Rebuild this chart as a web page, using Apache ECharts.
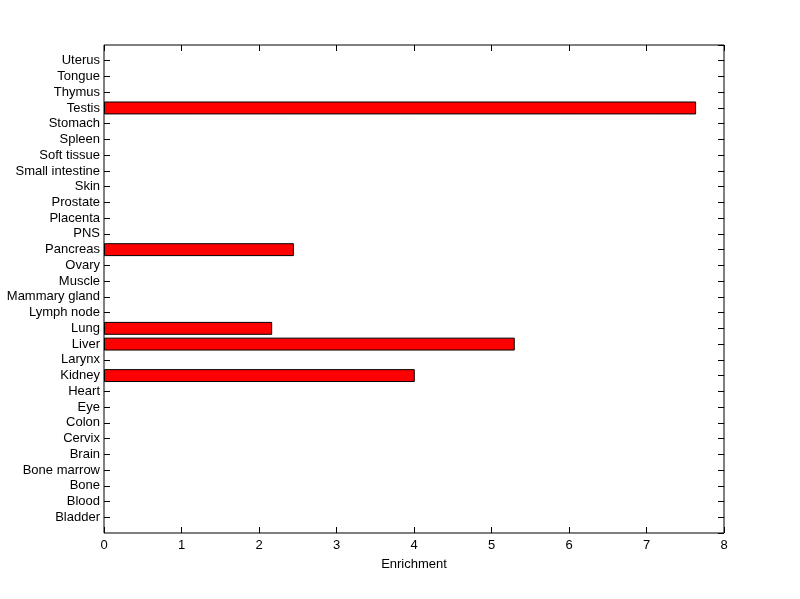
<!DOCTYPE html>
<html>
<head>
<meta charset="utf-8">
<script src="https://cdn.jsdelivr.net/npm/echarts@6/dist/echarts.min.js"></script>
<style>html,body{margin:0;padding:0;background:#fff;}#c{width:800px;height:599px;}</style>
</head>
<body>
<div id="c"></div>
<script>
// Categories from bottom to top
var tissues = ['Bladder','Blood','Bone','Bone marrow','Brain','Cervix','Colon','Eye','Heart','Kidney','Larynx','Liver','Lung','Lymph node','Mammary gland','Muscle','Ovary','Pancreas','PNS','Placenta','Prostate','Skin','Small intestine','Soft tissue','Spleen','Stomach','Testis','Thymus','Tongue','Uterus'];
var enrichment = [0,0,0,0,0,0,0,0,0,4.01,0,5.30,2.17,0,0,0,0,2.45,0,0,0,0,0,0,0,0,7.64,0,0,0];
var xTicks = [0,1,2,3,4,5,6,7,8];

// Pad one empty band at each end (as in the reference)
var cats = [''].concat(tissues).concat(['']);
var barData = [null].concat(enrichment.map(function(v){return v === 0 ? null : v;})).concat([null]);
var tickShow = function(idx){ return idx > 0 && idx < cats.length - 1; };
var font = 'Liberation Sans, Arial, sans-serif';

var chart = echarts.init(document.getElementById('c'), null, {renderer:'canvas'});
chart.setOption({
  animation: false,
  backgroundColor: '#fff',
  grid: {left:104, top:45, width:620, height:488, show:true, borderColor:'#000', borderWidth:1, backgroundColor:'transparent'},
  xAxis: [{
    type:'value', position:'bottom', min:xTicks[0], max:xTicks[xTicks.length-1], interval:1,
    name:'Enrichment', nameLocation:'middle', nameGap:25,
    nameTextStyle:{color:'#000', fontFamily:font, fontSize:13},
    axisLine:{show:false, onZero:false},
    axisTick:{show:true, inside:true, length:6, lineStyle:{color:'#000'}},
    axisLabel:{color:'#000', fontFamily:font, fontSize:13, margin:6},
    splitLine:{show:false}
  },{
    type:'value', position:'top', min:xTicks[0], max:xTicks[xTicks.length-1], interval:1,
    axisLine:{show:false, onZero:false},
    axisTick:{show:true, inside:true, length:6, lineStyle:{color:'#000'}},
    axisLabel:{show:false},
    splitLine:{show:false}
  }],
  yAxis: [{
    type:'category', position:'left', data:cats, boundaryGap:false,
    axisLine:{show:false, onZero:false},
    axisTick:{show:true, inside:true, length:6, interval:tickShow, lineStyle:{color:'#000'}},
    axisLabel:{color:'#000', fontFamily:font, fontSize:13, margin:4, interval:0},
    splitLine:{show:false}
  },{
    type:'value', position:'right', min:0, max:cats.length - 1, interval:1,
    axisLine:{show:false, onZero:false},
    axisTick:{show:true, inside:true, length:6, lineStyle:{color:'#000'}},
    axisLabel:{show:false},
    splitLine:{show:false}
  }],
  series: [{
    type:'bar', xAxisIndex:0, yAxisIndex:0, data:barData, barWidth:'82%',
    itemStyle:{color:'#ff0000', borderColor:'#000', borderWidth:1}
  }]
});
</script>
</body>
</html>
